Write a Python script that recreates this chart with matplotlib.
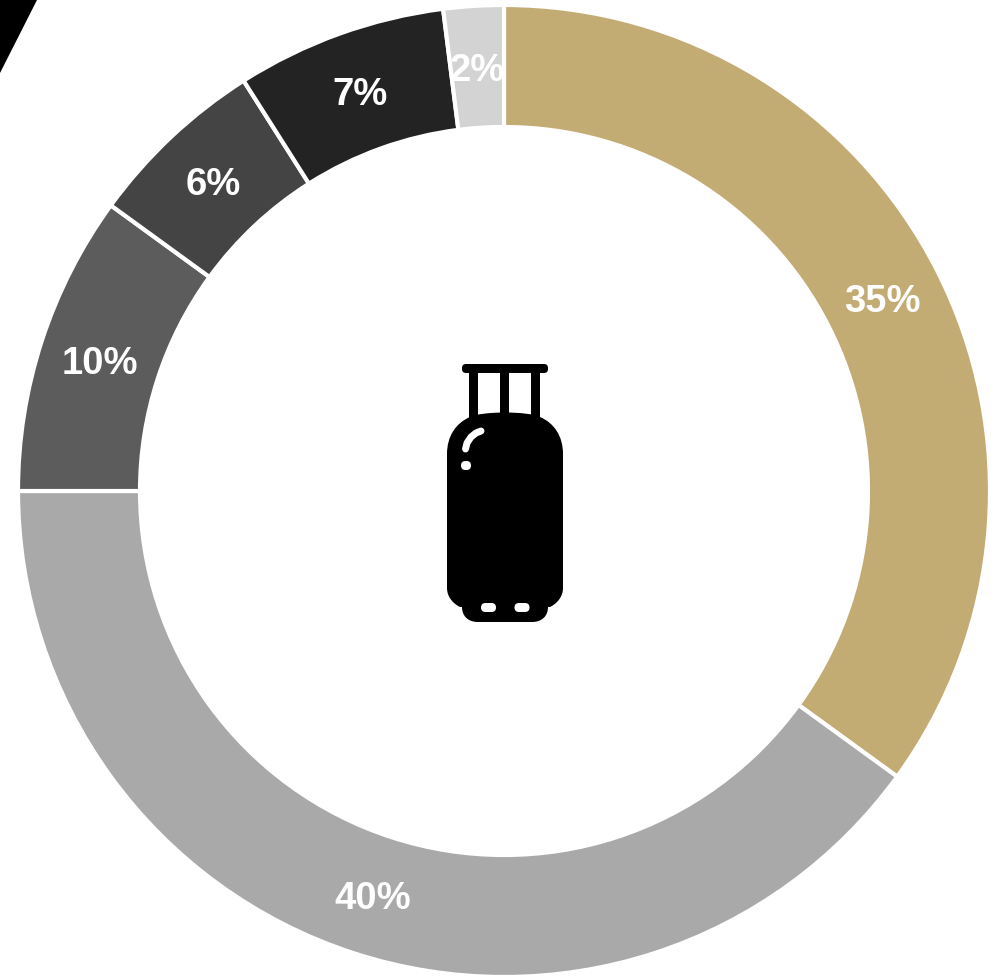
import matplotlib
matplotlib.use('Agg')
import matplotlib.pyplot as plt
from matplotlib.patches import FancyBboxPatch, Rectangle, Polygon, PathPatch
from matplotlib.path import Path
import numpy as np

# clockwise from 12 o'clock
labels = ['35%', '40%', '10%', '6%', '7%', '2%']
shares = [35, 40, 10, 6, 7, 2]
colors = ['#c3ab74', '#a9a9a9', '#5c5c5c', '#444444', '#232323', '#d3d3d3']

W, H = 1003, 977
plt.rcParams['font.family'] = ['Liberation Sans', 'DejaVu Sans']

fig = plt.figure(figsize=(W / 100, H / 100), dpi=100)
ax = fig.add_axes([0, 0, 1, 1])
ax.set_xlim(0, W)
ax.set_ylim(H, 0)
ax.axis('off')

# black corner wedge top left
ax.add_patch(Polygon([(0, 0), (37, 0), (0, 73)], closed=True, color='black', lw=0))

# donut, main axes is in pixel coords with y flipped so draw in a child axes
R = 486
ring = 122
pie_ax = fig.add_axes([(504 - R) / W, 1 - (491 + R) / H, 2 * R / W, 2 * R / H])
wedges, _ = pie_ax.pie(shares, colors=colors, startangle=90, counterclock=False, radius=1.0,
                       wedgeprops=dict(width=ring / R, edgecolor='white', linewidth=3))
pie_ax.set_xlim(-1, 1)
pie_ax.set_ylim(-1, 1)

# percentage labels sit on the middle of the ring, nudged down a little
cum = np.cumsum([0] + shares[:-1])
for lab, s, c in zip(labels, shares, cum):
    a = np.deg2rad(90 - (c + s / 2) * 3.6)
    r = 1 - ring / R / 2
    pie_ax.annotate(lab, (r * np.cos(a), r * np.sin(a)), xytext=(0, -4), textcoords='offset pixels',
                    color='white', fontsize=27.5, fontweight='bold', ha='center', va='center')

# gas bottle icon
k = 'black'
ax.add_patch(FancyBboxPatch((462, 364), 86, 9, boxstyle='round,pad=0,rounding_size=4', fc=k, lw=0))
for x0 in (469.5, 500.5, 531.5):
    ax.add_patch(Rectangle((x0, 368), 9, 50, fc=k, lw=0))

# body outline, top arch down to the narrower foot
M, L, C = Path.MOVETO, Path.LINETO, Path.CURVE4
body = [
    ((470, 417), M),
    ((482, 411), C), ((528, 411), C), ((540, 417), C),
    ((554, 423), C), ((563, 436), C), ((563, 454), C),
    ((563, 588), L),
    ((563, 596), C), ((558, 603), C), ((550, 607), C),
    ((548, 607), L),
    ((548, 616), C), ((542, 622), C), ((532, 622), C),
    ((478, 622), L),
    ((468, 622), C), ((462, 616), C), ((462, 607), C),
    ((460, 607), L),
    ((452, 603), C), ((447, 596), C), ((447, 588), C),
    ((447, 454), L),
    ((447, 436), C), ((456, 423), C), ((470, 417), C),
]
ax.add_patch(PathPatch(Path([p for p, _ in body], [c for _, c in body]), fc=k, lw=0))

# white highlights
for x0, y0, w, h, rs in [(481, 603, 15, 9, 4.5), (514.5, 603, 15, 9, 4.5), (461, 461, 10, 9, 4.5)]:
    ax.add_patch(FancyBboxPatch((x0, y0), w, h, boxstyle=f'round,pad=0,rounding_size={rs}', fc='white', lw=0))
ax.plot([465.5, 467, 471, 476, 481], [449, 443, 437, 433, 431], color='white', lw=5, solid_capstyle='round')

fig.savefig('out.png', dpi=100, facecolor='white')
